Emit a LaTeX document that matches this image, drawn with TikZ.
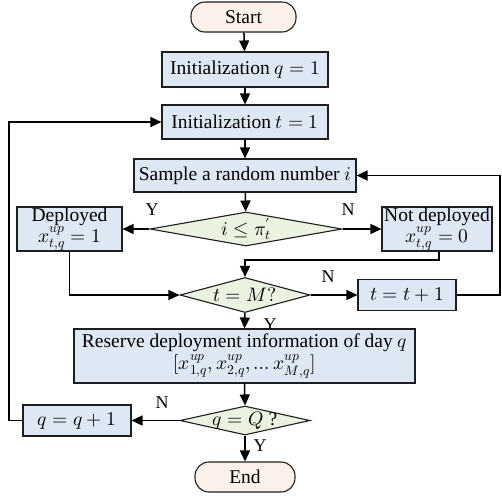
\documentclass[tikz,border=0pt]{standalone}
\usepackage{fontspec}
\usepackage{unicode-math}
\setmainfont{Liberation Serif}
\setmathfont{Latin Modern Math}
\usetikzlibrary{shapes.geometric,arrows.meta}
\definecolor{boxblue}{HTML}{DEE8F4}
\definecolor{diagreen}{HTML}{EAF3DF}
\definecolor{termfill}{HTML}{FCF1EA}
\definecolor{edgecol}{HTML}{1E1E1E}
\tikzset{
  every node/.style={font=\fontsize{19.5}{19.5}\selectfont},
  box/.style={draw=edgecol, fill=boxblue, line width=1.1pt, inner sep=1pt, align=center},
  term/.style={draw=edgecol, fill=termfill, line width=1.1pt, rounded corners=14pt, inner sep=1pt},
  dia/.style={diamond, draw=edgecol, fill=diagreen, line width=1.1pt, inner sep=0pt},
  arr/.style={line width=1.5pt, -{Triangle[length=11pt,width=10pt]}},
  lab/.style={font=\fontsize{18}{18}\selectfont}
}
\begin{document}
\begin{tikzpicture}[x=1pt,y=-1pt]
\useasboundingbox (0,0) rectangle (502,496);
\node[term, minimum width=105pt, minimum height=30pt] (start) at (243.5,17) {Start};
\node[box, minimum width=166pt, minimum height=35pt] (initq) at (245,69.5) {Initialization $q=1$};
\node[box, minimum width=166pt, minimum height=34pt] (initt) at (245,122) {Initialization $t=1$};
\node[box, minimum width=222pt, minimum height=33pt] (sample) at (245,175.5) {Sample a random number $i$};
\node[dia, minimum width=192pt, minimum height=34pt, label=center:{$i\le\pi_t^{\prime}$}] (d1) at (246,229) {};
\node[box, minimum width=105pt, minimum height=44pt] (dep) at (69.5,229) {Deployed\\[0pt]$x^{up}_{t,q}=1$};
\node[box, minimum width=110pt, minimum height=44pt] (notdep) at (437,229) {Not deployed\\[0pt]$x^{up}_{t,q}=0$};
\node[dia, minimum width=130pt, minimum height=35pt, label=center:{$t=M?$}] (d2) at (245,295) {};
\node[box, minimum width=98pt, minimum height=31pt] (tinc) at (407,295) {$t=t+1$};
\node[box, minimum width=341pt, minimum height=54pt] (res) at (244.5,356) {Reserve deployment information of day $q$\\[1pt]$[x^{up}_{1,q},x^{up}_{2,q},\ldots x^{up}_{M,q}]$};
\node[dia, minimum width=130pt, minimum height=29pt, label=center:{$q=Q$ ?}] (d3) at (245,420.5) {};
\node[box, minimum width=108pt, minimum height=31pt] (qinc) at (77,420.5) {$q=q+1$};
\node[term, minimum width=100pt, minimum height=30pt] (end) at (245,477) {End};
\coordinate (c1) at (439,260);
\coordinate (c2) at (245,260);
\coordinate (c3) at (500,295);
\coordinate (c4) at (500,175.5);
\coordinate (c5) at (9,420.5);
\coordinate (c6) at (9,122);
\draw[arr] (start) -- (initq);
\draw[arr] (initq) -- (initt);
\draw[arr] (initt) -- (sample);
\draw[arr] (sample) -- (d1);
\draw[arr] (d1.west) -- (dep.east);
\draw[arr] (d1.east) -- (notdep.west);
\draw[arr] (notdep.south -| c1) -- (c1) -- (c2) -- (d2.north);
\draw[arr] (dep.south) |- (d2.west);
\draw[arr] (d2.east) -- (tinc.west);
\draw[arr] (tinc.east) -- (c3) -- (c4) -- (sample.east);
\draw[arr] (d2.south) -- (res.north);
\draw[arr] (res.south) -- (d3.north);
\draw[arr] (d3.west) -- (qinc.east);
\draw[arr] (qinc.west) -- (c5) -- (c6) -- (initt.west);
\draw[arr] (d3.south) -- (end.north);
\node[lab] (ly1) at (152,210) {Y};
\node[lab] (ln1) at (348,210) {N};
\node[lab] (ln2) at (328,277) {N};
\node[lab] (ly2) at (270,325) {Y};
\node[lab] (ln3) at (162,403) {N};
\node[lab] (ly3) at (260,446) {Y};
\end{tikzpicture}
\end{document}
